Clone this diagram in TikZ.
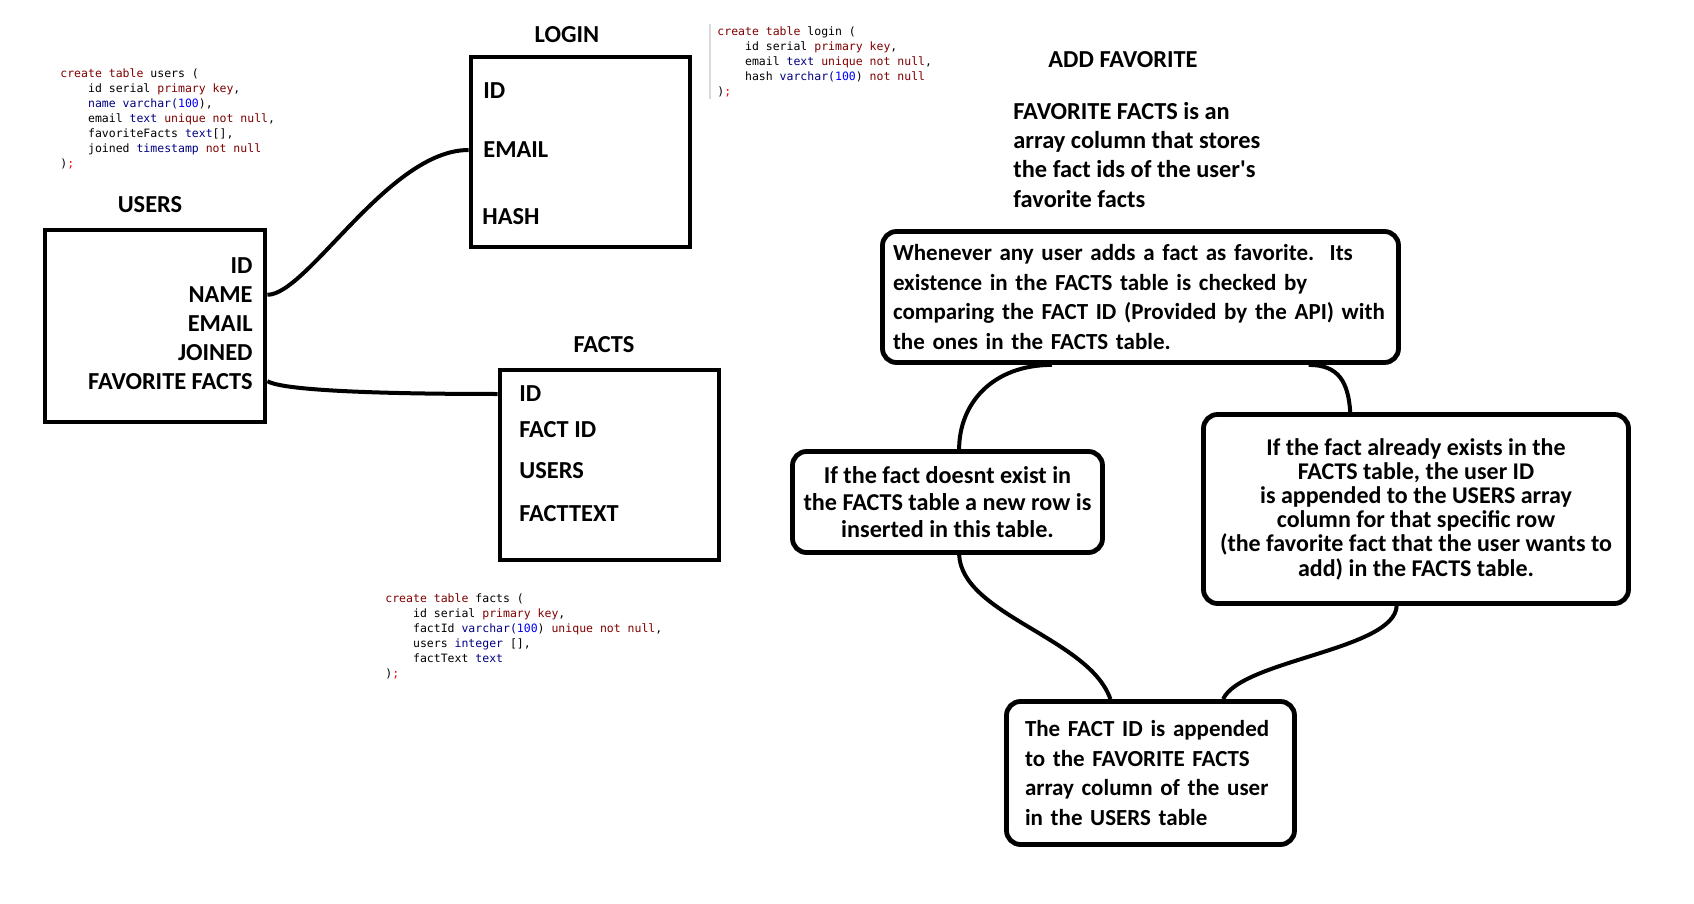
\documentclass[tikz,border=0pt]{standalone}
\usepackage{fontspec}
\setmainfont{Carlito}
\newfontfamily\codefont{DejaVu Sans Mono}
\usetikzlibrary{positioning,calc}
\definecolor{kwred}{HTML}{7F0000}
\definecolor{tynavy}{HTML}{000080}
\definecolor{numblue}{HTML}{0000FF}
\definecolor{semired}{HTML}{FF0000}
\newcommand{\kw}[1]{\textcolor{kwred}{#1}}
\newcommand{\ty}[1]{\textcolor{tynavy}{#1}}
\newcommand{\nm}[1]{\textcolor{numblue}{#1}}
\newcommand{\semi}{\textcolor{semired}{;}}
\newcommand{\ind}{\phantom{0000}}
\tikzset{
  tbl/.style={draw,line width=2.4pt,inner sep=0pt},
  note/.style={draw,line width=2.4pt,rounded corners=7pt,inner sep=0pt},
  fld/.style={inner sep=0pt,font=\bfseries\fontsize{12.2}{14}\selectfont},
  head/.style={fld},
  para/.style={inner sep=0pt,font=\bfseries\fontsize{11.5}{14.7}\selectfont},
  code/.style={inner sep=0pt,align=left,anchor=north west,
               font=\codefont\fontsize{5.75}{7.5}\selectfont},
  link/.style={line width=2pt},
}

\begin{document}
\begin{tikzpicture}[x=0.5pt,y=-0.5pt]
  \useasboundingbox (0,0) rectangle (1694,904);
  % users table
  \node[code] (userscode) at (60,68) {\kw{create table} users (\\
    \ind id serial \kw{primary key},\\
    \ind \ty{name varchar(}\nm{100}),\\
    \ind email \ty{text} \kw{unique not null},\\
    \ind favoriteFacts \ty{text}[],\\
    \ind joined \ty{timestamp} \kw{not null}\\
    )\semi};
  \node[head] (usershead) at (150,205) {USERS};
  \node[tbl,minimum width=110pt,minimum height=96pt] (usersbox) at (155,326) {};
  \foreach \i/\lbl in {1/ID,2/NAME,3/EMAIL,4/JOINED,5/FAVORITE FACTS}
    \node[fld,anchor=east] (u\i) at (253,{237.2+28.8*\i}) {\lbl};
  % login table
  \node[head] (loginhead) at (567,35) {LOGIN};
  \node[tbl,minimum width=109.5pt,minimum height=95pt] (loginbox) at (580.5,152) {};
  \node[fld,anchor=west] (lid) at (483,91) {ID};
  \node[fld,anchor=west] (lemail) at (483,150) {EMAIL};
  \node[fld,anchor=west] (lhash) at (482,217) {HASH};
  \draw[black!15,line width=0.6pt] (710,24) -- (710,99);
  \node[code] (logincode) at (717,26) {\kw{create table} login (\\
    \ind id serial \kw{primary key},\\
    \ind email \ty{text} \kw{unique not null},\\
    \ind hash \ty{varchar(}\nm{100}) \kw{not null}\\
    )\semi};
  % facts table
  \node[head] (factshead) at (604,345) {FACTS};
  \node[tbl,minimum width=109.5pt,minimum height=95pt] (factsbox) at (609.5,465) {};
  \node[fld,anchor=west] (fid) at (519,394) {ID};
  \node[fld,anchor=west] (ffid) at (519,430) {FACT ID};
  \node[fld,anchor=west] (fusers) at (519,471) {USERS};
  \node[fld,anchor=west] (ftext) at (519,514) {FACTTEXT};
  \node[code] (factscode) at (385,593) {\kw{create table} facts (\\
    \ind id serial \kw{primary key},\\
    \ind factId \ty{varchar(}\nm{100}) \kw{unique not null},\\
    \ind users \ty{integer} [],\\
    \ind factText \ty{text}\\
    )\semi};
  % table links
  \draw[link] (u2 -| usersbox.east) .. controls +(40,0) and +(-80,0) .. (lemail -| loginbox.west);
  \draw[link] (u5 -| usersbox.east) .. controls +(20,12) and +(-60,0) .. (fid -| factsbox.west);
  % add favorite
  \node[head] (addhead) at (1123,60) {ADD FAVORITE};
  \node[para,font=\bfseries\fontsize{12.2}{14.6}\selectfont,align=left,anchor=north west]
    (addtext) at (1013,102)
    {FAVORITE FACTS is an\\array column that stores\\the fact ids of the user\textquotesingle s\\favorite facts};
  \node[note,para,align=left,text width=247.5pt,minimum width=258pt,minimum height=65.5pt]
    (wbox) at (1140.5,297)
    {Whenever any user adds a fact as favorite.\ \ Its\\existence in the FACTS table is checked by\\comparing the FACT ID (Provided by the API) with\\the ones in the FACTS table.};
  \node[note,align=center,minimum width=155pt,minimum height=50.5pt,
        font=\bfseries\fontsize{12.1}{13.35}\selectfont]
    (dbox) at (947.5,502)
    {If the fact doesnt exist in\\the FACTS table a new row is\\inserted in this table.};
  \node[note,align=center,minimum width=212.5pt,minimum height=94.5pt,
        font=\bfseries\fontsize{12}{12.1}\selectfont]
    (abox) at (1416,509)
    {If the fact already exists in the\\FACTS table, the user ID\\is appended to the USERS array\\column for that specific row\\(the favorite fact that the user wants to\\add) in the FACTS table.};
  \node[note,para,align=left,text width=125.5pt,minimum width=144pt,minimum height=71.5pt]
    (fbox) at (1150.5,773)
    {The FACT ID is appended\\to the FAVORITE FACTS\\array column of the user\\in the USERS table};
  % flow links
  \draw[link] ($(wbox.south west)!.33!(wbox.south east)$) .. controls +(-60,0) and +(0,-45) ..
    ($(dbox.north west)!.537!(dbox.north east)$);
  \draw[link] ($(wbox.south west)!.823!(wbox.south east)$) .. controls +(30,0) and +(-2,-30) ..
    ($(abox.north west)!.347!(abox.north east)$);
  \draw[link] ($(dbox.south west)!.537!(dbox.south east)$) .. controls +(3,60) and +(-21,-61) ..
    ($(fbox.north west)!.363!(fbox.north east)$);
  \draw[link] ($(abox.south west)!.455!(abox.south east)$) .. controls +(-2,44) and +(18,-39) ..
    ($(fbox.north west)!.748!(fbox.north east)$);
\end{tikzpicture}
\end{document}
